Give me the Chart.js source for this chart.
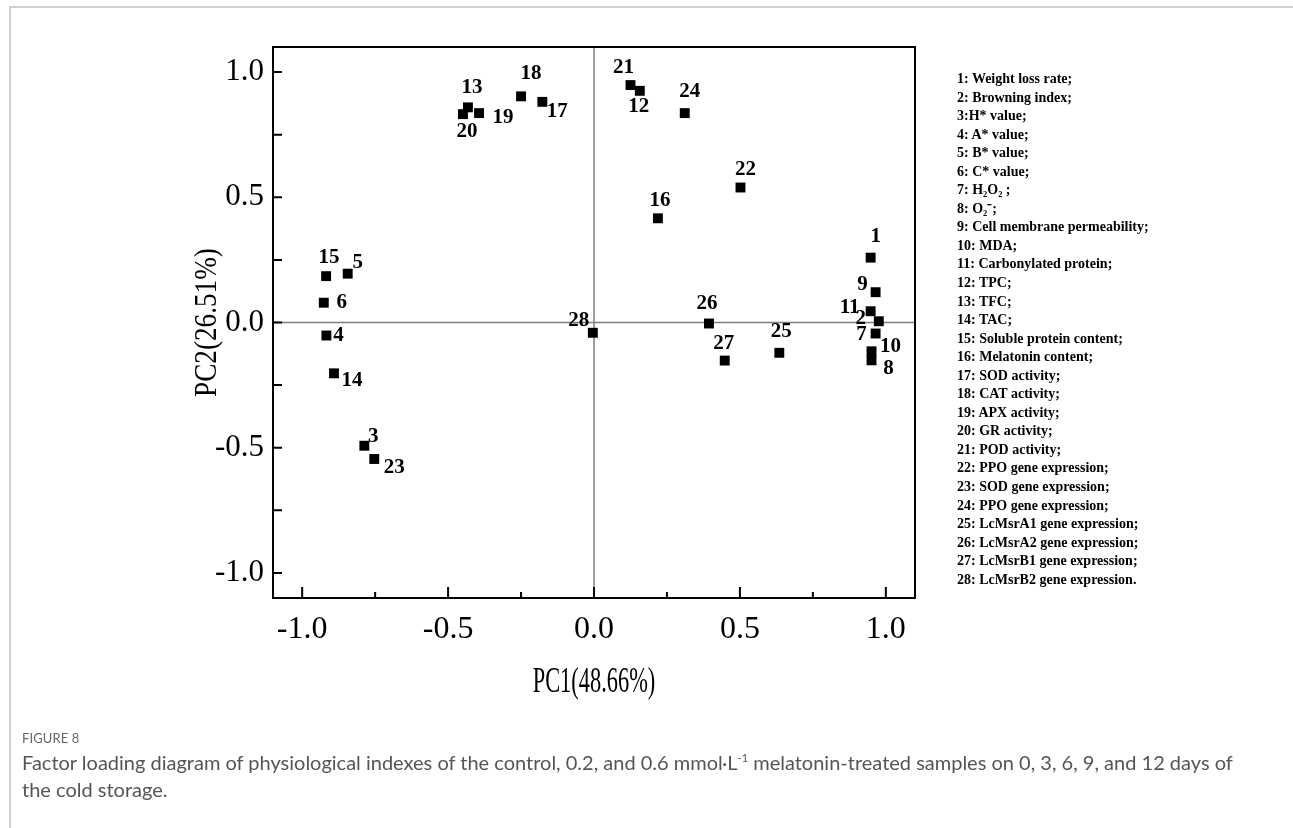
<!DOCTYPE html>
<html>
<head>
<meta charset="utf-8">
<script src="https://cdn.jsdelivr.net/npm/chart.js@4.4.1/dist/chart.umd.min.js"></script>
<style>
  body { margin: 0; width: 1293px; height: 828px; background: #fff; position: relative; overflow: hidden; }
  #frame { position: absolute; left: 9px; top: 6px; width: 1300px; height: 830px; border-top: 2px solid #cfcfcf; border-left: 2px solid #cfcfcf; }
  #chart { position: absolute; left: 0; top: 0; }
  #legend { position: absolute; left: 957px; top: 70px; font: bold 14px/18.55px "Liberation Serif", serif; color: #000; white-space: nowrap; }
  #figlabel { position: absolute; left: 22px; top: 730px; font: 13px "Lato", sans-serif; color: #666; letter-spacing: 0.1px; }
  #caption { position: absolute; left: 22px; top: 749px; width: 1225px; font: 20px/27px "Lato", sans-serif; color: #555; }
  #caption sup { font-size: 11px; vertical-align: 8px; line-height: 0; }
</style>
</head>
<body>
<div id="frame"></div>
<canvas id="chart" width="1293" height="828"></canvas>
<div id="legend"></div>
<div id="figlabel">FIGURE 8</div>
<div id="caption">Factor loading diagram of physiological indexes of the control, 0.2, and 0.6 mmol·L<sup>-1</sup> melatonin-treated samples on 0, 3, 6, 9, and 12 days of the cold storage.</div>
<script>
// loadings, indicator 1..28
const ids = [1, 2, 3, 4, 5, 6, 7, 8, 9, 10, 11, 12, 13, 14, 15, 16, 17, 18, 19, 20, 21, 22, 23, 24, 25, 26, 27, 28];
const pc1 = [0.948, 0.976, -0.787, -0.917, -0.844, -0.926, 0.965, 0.951, 0.965, 0.951, 0.948, 0.157, -0.432, -0.891,
             -0.918, 0.219, -0.177, -0.250, -0.394, -0.449, 0.125, 0.502, -0.753, 0.311, 0.635, 0.394, 0.448, -0.004];
const pc2 = [0.259, 0.005, -0.492, -0.052, 0.195, 0.079, -0.044, -0.151, 0.121, -0.115, 0.045, 0.925, 0.859, -0.203,
             0.185, 0.416, 0.881, 0.903, 0.836, 0.832, 0.948, 0.539, -0.545, 0.836, -0.121, -0.004, -0.152, -0.041];
const tickValues = [-1.0, -0.5, 0.0, 0.5, 1.0];
const minorTicks = [-0.75, -0.25, 0.25, 0.75];
const xTitle = "PC1(48.66%)";
const yTitle = "PC2(26.51%)";
const indicators = [
  "Weight loss rate;", "Browning index;", "H* value;", "A* value;", "B* value;", "C* value;", "H\u2082O\u2082 ;",
  "O\u2082\u207B;", "Cell membrane permeability;", "MDA;", "Carbonylated protein;", "TPC;", "TFC;", "TAC;",
  "Soluble protein content;", "Melatonin content;", "SOD activity;", "CAT activity;", "APX activity;",
  "GR activity;", "POD activity;", "PPO gene expression;", "SOD gene expression;", "PPO gene expression;",
  "LcMsrA1 gene expression;", "LcMsrA2 gene expression;", "LcMsrB1 gene expression;", "LcMsrB2 gene expression."
];

// where each number label sits relative to its marker (px)
const labelDx = [5, -18, 9, 12, 10, 18, -14, 17, -13, 19, -21, -1, 4, 18, 3, 2, 15, 10, 24, 4, -7, 5, 20, 5, 2, -2, -1, -14];
const labelDy = [-21, -3, -9, 0, -11, 0, 1, 8, -8, -5, -4, 16, -20, 7, -19, -18, 10, -23, 4, 17, -17, -18, 9, -22, -21, -20, -17, -12];

document.getElementById("legend").innerHTML = indicators
  .map((t, i) => "<div>" + ids[i] + (i === 2 ? ":" : ": ") + t + "</div>").join("");

const serif = "'Liberation Serif', 'Times New Roman', serif";

const loadingPlot = {
  id: "loadingPlot",
  beforeDatasetsDraw(chart) {
    const {ctx, chartArea: a, scales: {x, y}} = chart;
    ctx.save();
    ctx.strokeStyle = "#7d7d7d";
    ctx.lineWidth = 1.5;
    ctx.beginPath();
    ctx.moveTo(a.left, y.getPixelForValue(0));
    ctx.lineTo(a.right, y.getPixelForValue(0));
    ctx.moveTo(x.getPixelForValue(0), a.top);
    ctx.lineTo(x.getPixelForValue(0), a.bottom);
    ctx.stroke();
    ctx.restore();
  },
  afterDatasetsDraw(chart) {
    const {ctx} = chart;
    const meta = chart.getDatasetMeta(0);
    ctx.save();
    ctx.font = "bold 21px " + serif;
    ctx.fillStyle = "#000";
    ctx.textAlign = "center";
    ctx.textBaseline = "middle";
    meta.data.forEach((pt, i) => {
      ctx.fillText(String(ids[i]), pt.x + labelDx[i], pt.y + labelDy[i]);
    });
    ctx.restore();
  },
  afterDraw(chart) {
    const {ctx, chartArea: a, scales: {x, y}} = chart;
    ctx.save();
    ctx.strokeStyle = "#000";
    ctx.lineWidth = 2;
    ctx.strokeRect(a.left, a.top, a.right - a.left, a.bottom - a.top);
    ctx.beginPath();
    tickValues.forEach(v => {
      const px = x.getPixelForValue(v);
      ctx.moveTo(px, a.bottom);
      ctx.lineTo(px, a.bottom - 11);
      const py = y.getPixelForValue(v);
      ctx.moveTo(a.left, py);
      ctx.lineTo(a.left + 9, py);
    });
    minorTicks.forEach(v => {
      const px = x.getPixelForValue(v);
      ctx.moveTo(px, a.bottom);
      ctx.lineTo(px, a.bottom - 6);
      const py = y.getPixelForValue(v);
      ctx.moveTo(a.left, py);
      ctx.lineTo(a.left + 9, py);
    });
    ctx.stroke();

    // axis titles, narrow like the original
    ctx.fillStyle = "#000";
    ctx.textAlign = "center";
    ctx.textBaseline = "middle";
    ctx.font = "35px " + serif;
    ctx.save();
    ctx.translate((a.left + a.right) / 2, 683);
    ctx.scale(0.64, 1);
    ctx.fillText(xTitle, 0, 0);
    ctx.restore();
    ctx.font = "32px " + serif;
    ctx.save();
    ctx.translate(208, (a.top + a.bottom) / 2);
    ctx.rotate(-Math.PI / 2);
    ctx.scale(0.85, 1);
    ctx.fillText(yTitle, 0, 0);
    ctx.restore();
    ctx.restore();
  }
};

new Chart(document.getElementById("chart"), {
  type: "scatter",
  data: {
    datasets: [{
      data: pc1.map((v, i) => ({x: v, y: pc2[i]})),
      pointStyle: "rect",
      pointRadius: 7,
      backgroundColor: "#000",
      borderWidth: 0
    }]
  },
  options: {
    responsive: false,
    animation: false,
    events: [],
    layout: {padding: {left: 173, top: 47, right: 378, bottom: 120}},
    plugins: {legend: {display: false}, tooltip: {enabled: false}},
    scales: {
      x: {
        type: "linear", min: -1.1, max: 1.1,
        grid: {display: false}, border: {display: false},
        ticks: {stepSize: 0.5, includeBounds: false, padding: 4, color: "#000",
                font: {family: serif, size: 32}, callback: v => v.toFixed(1)},
        afterFit: s => { s.height = 110; }
      },
      y: {
        type: "linear", min: -1.1, max: 1.1,
        grid: {display: false}, border: {display: false},
        ticks: {stepSize: 0.5, includeBounds: false, padding: 1, color: "#000",
                font: {family: serif, size: 31}, callback: v => v.toFixed(1)},
        afterFit: s => { s.width = 100; }
      }
    }
  },
  plugins: [loadingPlot]
});
</script>
</body>
</html>
